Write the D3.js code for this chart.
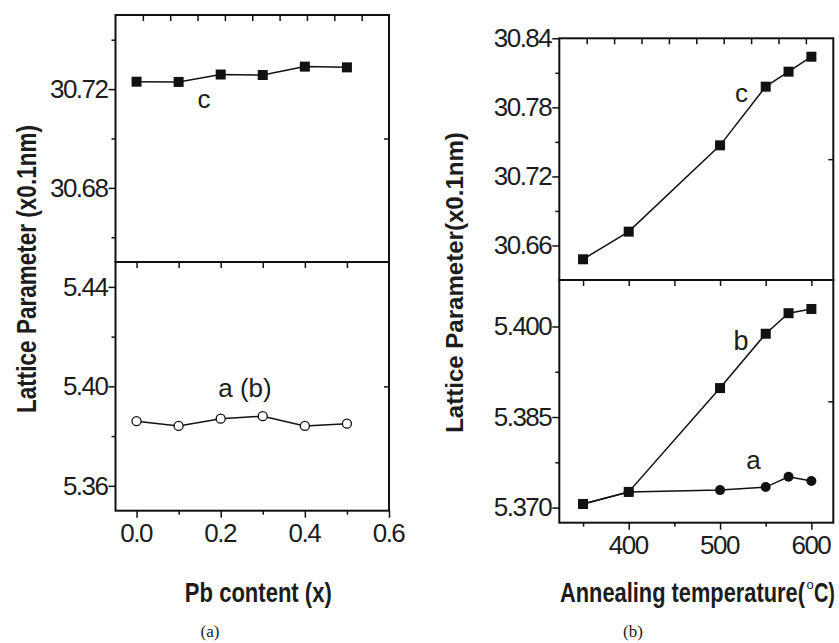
<!DOCTYPE html>
<html>
<head>
<meta charset="utf-8">
<script src="https://cdn.jsdelivr.net/npm/d3@7"></script>
<style>
  html, body { margin: 0; padding: 0; background: #fff; }
  svg { display: block; }
</style>
</head>
<body>
<svg id="chart" width="839" height="643"></svg>
<script>
// ---- Panel (a): lattice parameters vs Pb content ----
const pbContent = [0.0, 0.1, 0.2, 0.3, 0.4, 0.5];
const pbLatticeC = [30.723, 30.7229, 30.7259, 30.7257, 30.7291, 30.7288];
const pbLatticeAB = [5.386, 5.3841, 5.387, 5.388, 5.3841, 5.385];

// ---- Panel (b): lattice parameters vs annealing temperature ----
const annealTemp = [350, 400, 500, 550, 575, 600];
const annealLatticeC = [30.648, 30.672, 30.747, 30.798, 30.811, 30.824];
const annealLatticeA = [5.3706, 5.3726, 5.3729, 5.3734, 5.3751, 5.3744];
const annealLatticeB = [5.3706, 5.3726, 5.3898, 5.3988, 5.4022, 5.4029];

// tick values
const pbTicksMajor = [0.0, 0.2, 0.4, 0.6];
const pbTicksMinor = [0.1, 0.3, 0.5];
const pbCTicksMajor = [30.72, 30.68];
const pbCTicksMinor = [30.74, 30.70, 30.66];
const pbABTicksMajor = [5.44, 5.40, 5.36];
const pbABTicksMinor = [5.42, 5.38];
const tempTicksMajor = [400, 500, 600];
const tempTicksMinor = [350, 450, 550];
const tempDividerTicks = [350, 400, 450, 500, 550, 600];
const annCTicksMajor = [30.84, 30.78, 30.72, 30.66];
const annCTicksMinor = [30.81, 30.75, 30.69];
const annABTicksMajor = [5.400, 5.385, 5.370];
const annABTicksMinor = [5.3925, 5.3775];
const frameTicks = [1, 2, 3, 4, 5, 6, 7, 8, 9];

const svg = d3.select("#chart");
const ink = "#111";
const textInk = "#1c1c1c";
const sans = "'Liberation Sans', Arial, sans-serif";

// scales
const xA = d3.scaleLinear([-0.05, 0.6], [115.5, 389]);
const yAc = d3.scaleLinear([30.65, 30.75], [262, 15]);
const yAab = d3.scaleLinear([5.35, 5.45], [510.7, 262]);

const xB = d3.scaleLinear([324, 624], [559.3, 833.3]);
const yBc = d3.scaleLinear([30.63, 30.84], [280, 38.3]);
const yBab = d3.scaleLinear([5.3675, 5.4077], [522.7, 280]);

function styleAxis(g) {
  g.select(".domain").remove();
  g.selectAll(".tick line").attr("stroke", ink).attr("stroke-width", 1.5);
  g.selectAll(".tick text")
    .attr("fill", textInk)
    .style("font-family", sans)
    .style("font-size", "26px")
    .style("letter-spacing", "-1.5px");
}

function addAxis(gen, transform) {
  const g = svg.append("g").attr("transform", transform).call(gen);
  styleAxis(g);
  return g;
}

function panel(x, yTop, yBot, cfg) {
  const [x0, x1] = x.range();
  const [t0b, t0t] = yTop.range();   // bottom, top
  const [b0b, b0t] = yBot.range();

  // left axes (major + minor, outward)
  addAxis(d3.axisLeft(yTop).tickValues(cfg.topMajor).tickSize(7).tickPadding(1).tickFormat(d3.format(cfg.topFmt)), `translate(${x0},0)`);
  addAxis(d3.axisLeft(yTop).tickValues(cfg.topMinor).tickSize(4).tickFormat(""), `translate(${x0},0)`);
  addAxis(d3.axisLeft(yBot).tickValues(cfg.botMajor).tickSize(7).tickPadding(1).tickFormat(d3.format(cfg.botFmt)), `translate(${x0},0)`);
  addAxis(d3.axisLeft(yBot).tickValues(cfg.botMinor).tickSize(4).tickFormat(""), `translate(${x0},0)`);

  // bottom axis
  const bx = addAxis(d3.axisBottom(x).tickValues(cfg.xMajor).tickSize(7).tickPadding(6).tickFormat(d3.format(cfg.xFmt)), `translate(0,${b0b})`);
  bx.selectAll(".tick text").attr("dx", "-1px");
  addAxis(d3.axisBottom(x).tickValues(cfg.xMinor).tickSize(4).tickFormat(""), `translate(0,${b0b})`);

  // inward ticks along the divider
  addAxis(d3.axisBottom(x).tickValues(cfg.divider).tickSize(6).tickFormat(""), `translate(0,${t0b})`);

  // evenly spaced inward ticks along the top edge
  const fx = d3.scaleLinear([0, 10], [x0, x1]);
  addAxis(d3.axisBottom(fx).tickValues(frameTicks).tickSize(6).tickFormat(""), `translate(0,${t0t})`);

  // mid-height inward ticks on the right edge
  const fyTop = d3.scaleLinear([0, 1], [t0b, t0t]);
  const fyBot = d3.scaleLinear([0, 1], [b0b, b0t]);
  addAxis(d3.axisLeft(fyTop).tickValues([0.5]).tickSize(5).tickFormat(""), `translate(${x1},0)`);
  addAxis(d3.axisLeft(fyBot).tickValues([0.5]).tickSize(5).tickFormat(""), `translate(${x1},0)`);

  // frames
  svg.append("rect").attr("x", x0).attr("y", t0t).attr("width", x1 - x0).attr("height", t0b - t0t)
    .attr("fill", "none").attr("stroke", ink).attr("stroke-width", 2);
  svg.append("rect").attr("x", x0).attr("y", b0t).attr("width", x1 - x0).attr("height", b0b - b0t)
    .attr("fill", "none").attr("stroke", ink).attr("stroke-width", 2);
}

panel(xA, yAc, yAab, {
  topMajor: pbCTicksMajor, topMinor: pbCTicksMinor, topFmt: ".2f",
  botMajor: pbABTicksMajor, botMinor: pbABTicksMinor, botFmt: ".2f",
  xMajor: pbTicksMajor, xMinor: pbTicksMinor, xFmt: ".1f",
  divider: pbContent
});
panel(xB, yBc, yBab, {
  topMajor: annCTicksMajor, topMinor: annCTicksMinor, topFmt: ".2f",
  botMajor: annABTicksMajor, botMinor: annABTicksMinor, botFmt: ".3f",
  xMajor: tempTicksMajor, xMinor: tempTicksMinor, xFmt: "d",
  divider: tempDividerTicks
});

// series drawing
function series(xs, ys, x, y, marker) {
  const pts = xs.map((d, i) => [x(d), y(ys[i])]);
  svg.append("path").attr("d", d3.line()(pts))
    .attr("fill", "none").attr("stroke", ink).attr("stroke-width", 1.5);
  const g = svg.append("g");
  if (marker === "square") {
    g.selectAll("rect").data(pts).join("rect")
      .attr("x", d => d[0] - 5).attr("y", d => d[1] - 5)
      .attr("width", 10).attr("height", 10).attr("fill", ink);
  } else if (marker === "open") {
    g.selectAll("circle").data(pts).join("circle")
      .attr("cx", d => d[0]).attr("cy", d => d[1]).attr("r", 4.5)
      .attr("fill", "#fff").attr("stroke", ink).attr("stroke-width", 1.3);
  } else {
    g.selectAll("circle").data(pts).join("circle")
      .attr("cx", d => d[0]).attr("cy", d => d[1]).attr("r", 5)
      .attr("fill", ink);
  }
}

series(pbContent, pbLatticeC, xA, yAc, "square");
series(pbContent, pbLatticeAB, xA, yAab, "open");
series(annealTemp, annealLatticeC, xB, yBc, "square");
series(annealTemp, annealLatticeA, xB, yBab, "filled");
series(annealTemp, annealLatticeB, xB, yBab, "square");

// curve labels
function label(txt, x, y, size) {
  svg.append("text").attr("x", x).attr("y", y).attr("text-anchor", "middle")
    .attr("fill", textInk).style("font-family", sans).style("font-size", size + "px")
    .text(txt);
}
label("c", 204, 108, 26);
label("a (b)", 245, 397, 26);
label("c", 741.5, 101.5, 26);
label("b", 741, 350, 27);
label("a", 753.5, 469, 26);

// axis titles in a condensed bold face: the text is squeezed horizontally
// (along its own direction) to the given length
function title(txt, x, y, size, len, rotate, anchor) {
  const t = svg.append("text")
    .attr("text-anchor", anchor || "middle")
    .attr("fill", textInk)
    .style("font-family", sans).style("font-weight", "bold").style("font-size", size + "px")
    .text(txt);
  const natural = t.node().getComputedTextLength();
  const sx = len / natural;
  t.attr("transform", `translate(${x},${y})` + (rotate ? " rotate(-90)" : "") + ` scale(${sx},1)`);
  return t;
}
title("Lattice Parameter (x0.1nm)", 35.5, 269, 27, 288, true);
title("Lattice Parameter(x0.1nm)", 463.3, 282.5, 24, 301, true);
title("Pb content (x)", 258.3, 601.5, 28, 147, false);

// "Annealing temperature(°C)" built from three pieces so the degree sign sits raised
title("Annealing temperature(", 560, 601.5, 28, 245, false, "start");
svg.append("text").attr("x", 806.5).attr("y", 589).attr("text-anchor", "start")
  .attr("fill", textInk).style("font-family", sans).style("font-size", "13px").text("o");
title("C)", 814, 601.5, 28, 21, false, "start");

// panel captions
const serif = "'Liberation Serif', 'Times New Roman', serif";
svg.append("text").attr("x", 210).attr("y", 637).attr("text-anchor", "middle")
  .attr("fill", textInk).style("font-family", serif).style("font-size", "17px").text("(a)");
svg.append("text").attr("x", 633).attr("y", 637).attr("text-anchor", "middle")
  .attr("fill", textInk).style("font-family", serif).style("font-size", "17px").text("(b)");
</script>
</body>
</html>
